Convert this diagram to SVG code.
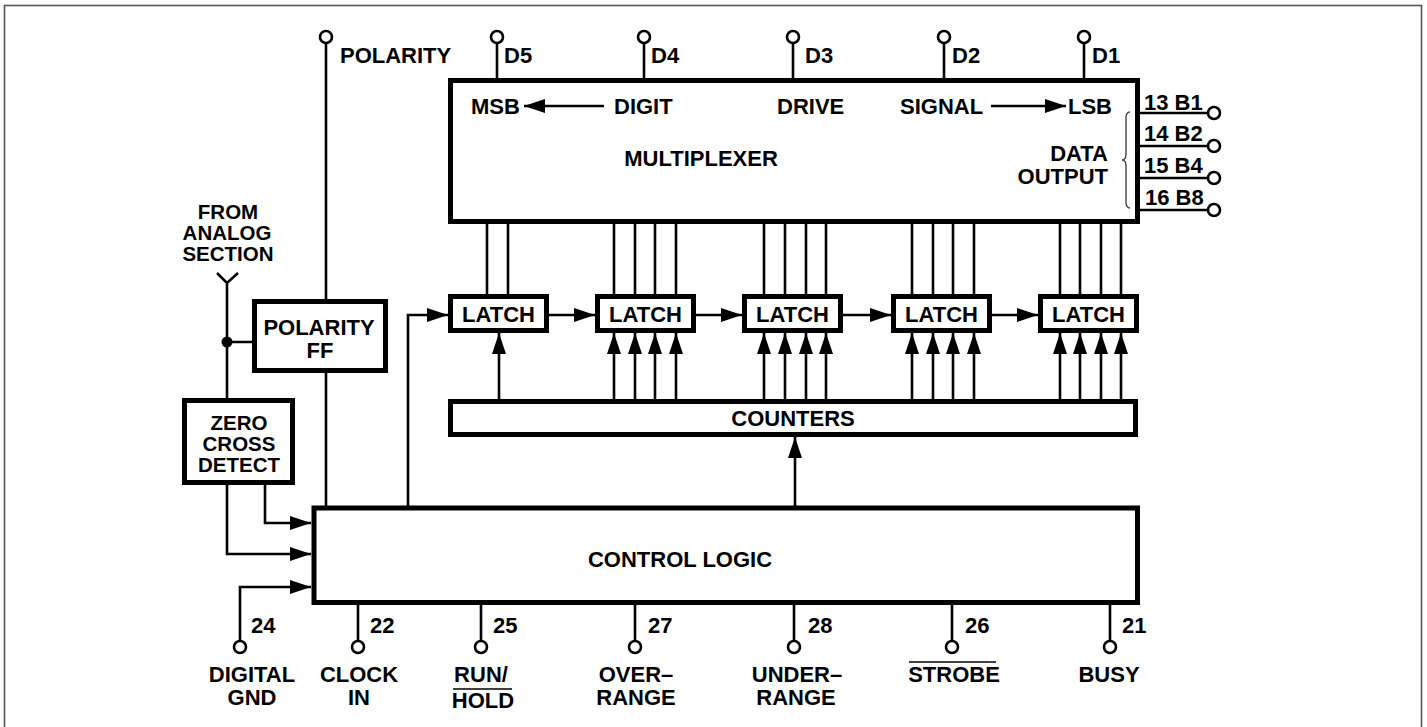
<svg xmlns="http://www.w3.org/2000/svg" width="1427" height="727" viewBox="0 0 1427 727">
<style>
.t{font-family:"Liberation Sans",Arial,sans-serif;font-weight:bold;font-size:22px;fill:#000}
.s{font-size:20.5px}
.m{text-anchor:middle}
.e{text-anchor:end}
.box{fill:#fff;stroke:#000;stroke-width:5}
.w{fill:none;stroke:#000;stroke-width:2.6}
.pin{fill:#fff;stroke:#000;stroke-width:2.6}
.a{marker-end:url(#ah)}
</style>
<defs>
<marker id="ah" markerUnits="userSpaceOnUse" markerWidth="22" markerHeight="14" refX="21" refY="7" orient="auto">
<path d="M0,0 L21,7 L0,14 z" fill="#000"/>
</marker>
</defs>
<rect x="0" y="0" width="1427" height="727" fill="#fff"/>
<rect x="4.5" y="5.5" width="1417" height="730" fill="none" stroke="#555" stroke-width="1.6"/>

<g id="connectors">
<path class="w" d="M326,43 V299 M326,373 V506"/>
<path class="w" d="M497,43 V80 M644,43 V80 M793,43 V80 M944,43 V80 M1084,43 V80"/>
<path class="w" d="M1139,113 H1208 M1139,146 H1208 M1139,178 H1208 M1139,210 H1208"/>
<path class="w" d="M487,222 V294 M508,222 V294 M614,222 V294 M635,222 V294 M655,222 V294 M676,222 V294 M764,222 V294 M785,222 V294 M806,222 V294 M826,222 V294 M912,222 V294 M933,222 V294 M953,222 V294 M974,222 V294 M1060,222 V294 M1080,222 V294 M1101,222 V294 M1121,222 V294"/>
<path class="w a" d="M499,399 V333"/>
<path class="w a" d="M614,399 V333"/><path class="w a" d="M635,399 V333"/><path class="w a" d="M655,399 V333"/><path class="w a" d="M676,399 V333"/>
<path class="w a" d="M764,399 V333"/><path class="w a" d="M785,399 V333"/><path class="w a" d="M806,399 V333"/><path class="w a" d="M826,399 V333"/>
<path class="w a" d="M912,399 V333"/><path class="w a" d="M933,399 V333"/><path class="w a" d="M953,399 V333"/><path class="w a" d="M974,399 V333"/>
<path class="w a" d="M1060,399 V333"/><path class="w a" d="M1080,399 V333"/><path class="w a" d="M1101,399 V333"/><path class="w a" d="M1121,399 V333"/>
<path class="w a" d="M408,507 V315 H448"/>
<path class="w a" d="M549,315 H595"/>
<path class="w a" d="M696,315 H742"/>
<path class="w a" d="M843,315 H891"/>
<path class="w a" d="M992,315 H1038"/>
<path class="w a" d="M795,506 V437"/>
<path class="w" d="M217,273 L227,283 L238,273 M227,283 V400 M227,342 H253"/>
<circle cx="227" cy="342" r="5.5" fill="#000"/>
<path class="w a" d="M265,485 V523 H311"/>
<path class="w a" d="M227,485 V554 H311"/>
<path class="w a" d="M240,641 V587 H311"/>
<path class="w" d="M358,605 V641 M481,605 V641 M635,605 V641 M794,605 V641 M952,605 V641 M1110,605 V641"/>
</g>

<g id="pins">
<circle class="pin" cx="326" cy="37" r="6"/>
<circle class="pin" cx="497" cy="37" r="6"/>
<circle class="pin" cx="644" cy="37" r="6"/>
<circle class="pin" cx="793" cy="37" r="6"/>
<circle class="pin" cx="944" cy="37" r="6"/>
<circle class="pin" cx="1084" cy="37" r="6"/>
<circle class="pin" cx="1214" cy="113" r="6"/>
<circle class="pin" cx="1214" cy="146" r="6"/>
<circle class="pin" cx="1214" cy="178" r="6"/>
<circle class="pin" cx="1214" cy="210" r="6"/>
<circle class="pin" cx="240" cy="647" r="6"/>
<circle class="pin" cx="358" cy="647" r="6"/>
<circle class="pin" cx="481" cy="647" r="6"/>
<circle class="pin" cx="635" cy="647" r="6"/>
<circle class="pin" cx="794" cy="647" r="6"/>
<circle class="pin" cx="952" cy="647" r="6"/>
<circle class="pin" cx="1110" cy="647" r="6"/>
<text class="t" x="340" y="63">POLARITY</text>
<text class="t" x="504" y="63">D5</text>
<text class="t" x="651" y="63">D4</text>
<text class="t" x="805" y="63">D3</text>
<text class="t" x="952" y="63">D2</text>
<text class="t" x="1092" y="63">D1</text>
<text class="t" x="1144" y="110">13 B1</text>
<text class="t" x="1144" y="141">14 B2</text>
<text class="t" x="1144" y="173">15 B4</text>
<text class="t" x="1145" y="205">16 B8</text>
<text class="t" x="251" y="633">24</text>
<text class="t" x="370" y="633">22</text>
<text class="t" x="493" y="633">25</text>
<text class="t" x="648" y="633">27</text>
<text class="t" x="808" y="633">28</text>
<text class="t" x="965" y="633">26</text>
<text class="t" x="1122" y="633">21</text>
<text class="t m" x="252" y="682">DIGITAL<tspan x="252" dy="23">GND</tspan></text>
<text class="t m" x="359" y="682">CLOCK<tspan x="359" dy="23">IN</tspan></text>
<text class="t m" x="481" y="682">RUN/<tspan x="483" dy="26">HOLD</tspan></text>
<line x1="453" y1="689" x2="512" y2="689" stroke="#000" stroke-width="1.6"/>
<text class="t m" x="636" y="682">OVER–<tspan x="636" dy="23">RANGE</tspan></text>
<text class="t m" x="797" y="682">UNDER–<tspan x="796" dy="23">RANGE</tspan></text>
<line x1="909" y1="662" x2="996" y2="662" stroke="#000" stroke-width="1.6"/>
<text class="t m" x="954" y="682">STROBE</text>
<text class="t m" x="1109" y="682">BUSY</text>
<text class="t s m" x="228" y="219">FROM<tspan x="227" dy="21">ANALOG</tspan><tspan x="228" dy="21">SECTION</tspan></text>
</g>

<g id="multiplexer">
<rect class="box" x="450.5" y="80.5" width="687" height="141"/>
<text class="t" x="471" y="114">MSB</text>
<path class="w a" d="M604,106 H524"/>
<text class="t" x="614" y="114">DIGIT</text>
<text class="t" x="777" y="114">DRIVE</text>
<text class="t" x="900" y="114">SIGNAL</text>
<path class="w a" d="M991,106 H1066"/>
<text class="t" x="1068" y="114">LSB</text>
<text class="t m" x="701" y="166">MULTIPLEXER</text>
<text class="t e" x="1108" y="161">DATA<tspan x="1108" dy="23">OUTPUT</tspan></text>
<path d="M1130,112 Q1126,112 1126,118 V154 Q1126,160 1122,160 Q1126,160 1126,166 V202 Q1126,208 1130,208" fill="none" stroke="#444" stroke-width="1.4"/>
</g>

<g id="latch1"><rect class="box" x="450.5" y="296.5" width="96" height="34"/><text class="t m" x="498.5" y="322">LATCH</text></g>
<g id="latch2"><rect class="box" x="597.5" y="296.5" width="96" height="34"/><text class="t m" x="645.5" y="322">LATCH</text></g>
<g id="latch3"><rect class="box" x="744.5" y="296.5" width="96" height="34"/><text class="t m" x="792.5" y="322">LATCH</text></g>
<g id="latch4"><rect class="box" x="893.5" y="296.5" width="96" height="34"/><text class="t m" x="941.5" y="322">LATCH</text></g>
<g id="latch5"><rect class="box" x="1040.5" y="296.5" width="96" height="34"/><text class="t m" x="1088.5" y="322">LATCH</text></g>

<g id="counters"><rect class="box" x="450.5" y="401.5" width="685" height="33"/><text class="t m" x="793" y="426">COUNTERS</text></g>

<g id="polarity-ff"><rect class="box" x="254.5" y="301.5" width="131" height="69"/><text class="t m" x="319" y="335">POLARITY<tspan x="320" dy="23">FF</tspan></text></g>

<g id="zero-cross"><rect class="box" x="184.5" y="400.5" width="108" height="82"/><text class="t s m" x="239" y="430">ZERO<tspan x="239" dy="21">CROSS</tspan><tspan x="239" dy="21">DETECT</tspan></text></g>

<g id="control-logic"><rect class="box" x="314" y="508" width="823.5" height="94.5"/><text class="t m" x="680" y="567">CONTROL LOGIC</text></g>
</svg>
